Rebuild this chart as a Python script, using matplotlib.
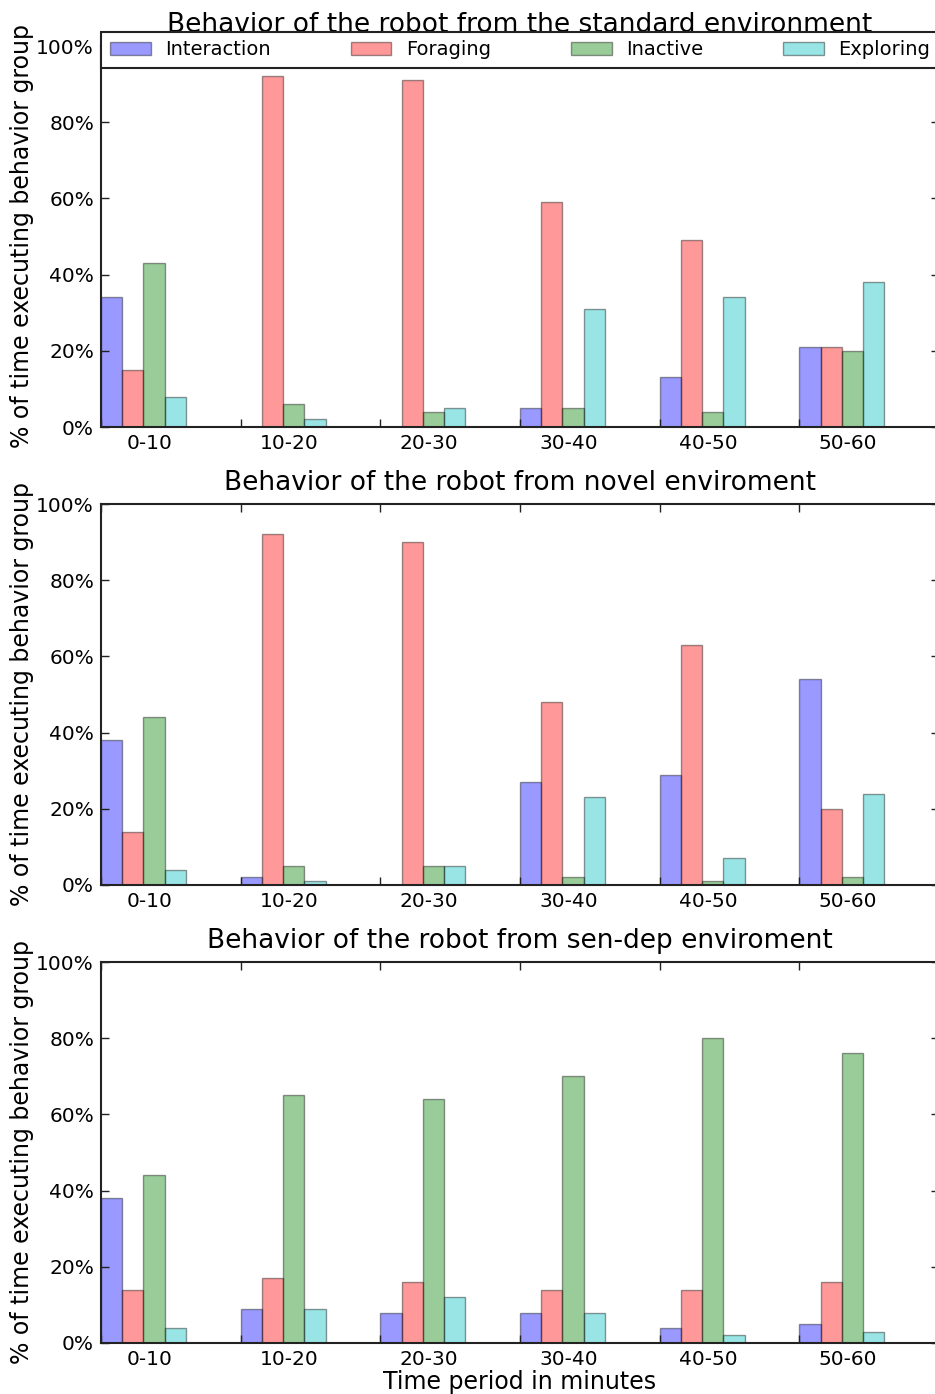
import matplotlib
matplotlib.use("Agg")
import matplotlib.pyplot as plt
import numpy as np

plt.rcParams['font.family'] = ['DejaVu Sans']

periods = ["0-10", "10-20", "20-30", "30-40", "40-50", "50-60"]
behaviors = ["Interaction", "Foraging", "Inactive", "Exploring"]
colors = ["b", "r", "g", "c"]

titles = [
    "Behavior of the robot from the standard environment",
    "Behavior of the robot from novel enviroment",
    "Behavior of the robot from sen-dep enviroment",
]

# percentage of time spent in each behavior group per period
standard_interaction = [34, 0, 0, 5, 13, 21]
standard_foraging = [15, 92, 91, 59, 49, 21]
standard_inactive = [43, 6, 4, 5, 4, 20]
standard_exploring = [8, 2, 5, 31, 34, 38]

novel_interaction = [38, 2, 0, 27, 29, 54]
novel_foraging = [14, 92, 90, 48, 63, 20]
novel_inactive = [44, 5, 5, 2, 1, 2]
novel_exploring = [4, 1, 5, 23, 7, 24]

sendep_interaction = [38, 9, 8, 8, 4, 5]
sendep_foraging = [14, 17, 16, 14, 14, 16]
sendep_inactive = [44, 65, 64, 70, 80, 76]
sendep_exploring = [4, 9, 12, 8, 2, 3]

environments = [
    [standard_interaction, standard_foraging, standard_inactive, standard_exploring],
    [novel_interaction, novel_foraging, novel_inactive, novel_exploring],
    [sendep_interaction, sendep_foraging, sendep_inactive, sendep_exploring],
]

W, H = 935, 1394
fig = plt.figure(figsize=(W / 100, H / 100), dpi=100)

ind = np.arange(len(periods))
width = 0.152

left = 101 / W
axw = (939 - 101) / W
axh = 381 / H
bottoms_px = [427, 885, 1343]

for k, (series, title) in enumerate(zip(environments, titles)):
    ax = fig.add_axes([left, 1 - bottoms_px[k] / H, axw, axh])
    for j, (vals, col, name) in enumerate(zip(series, colors, behaviors)):
        ax.bar(ind + j * width, vals, width, color=col, alpha=0.4,
               edgecolor="black", linewidth=1.0, align="edge", label=name)
    ax.set_xlim(0, len(periods))
    ax.set_ylim(0, 100)
    ax.set_yticks(np.arange(0, 101, 20))
    ax.set_yticklabels([f"{v}%" for v in range(0, 101, 20)])
    ax.set_xticks(ind)
    ax.set_xticklabels([])
    ax.set_xticks(ind + 0.35, minor=True)
    ax.set_xticklabels(periods, minor=True)
    ax.tick_params(which="major", direction="in", length=6, width=1,
                   top=True, right=True, labelsize=14.5, pad=5, colors="#222222",
                   labelcolor="black")
    ax.tick_params(which="minor", length=0, labelsize=14.5, pad=5)
    for s in ax.spines.values():
        s.set_linewidth(1.5)
        s.set_color("#222222")
    ax.set_title(title, fontsize=19, y=1 + 14 / 381, pad=0)
    ax.set_ylabel("% of time executing behavior group", fontsize=17, labelpad=2)
    if k == 0:
        leg = ax.legend(loc="lower left", bbox_to_anchor=(0, 0.942, 1, 0.087),
                        mode="expand", ncol=4, borderaxespad=0, fontsize=14,
                        fancybox=False, framealpha=1, edgecolor="#222222",
                        handlelength=2.1, handletextpad=0.75, borderpad=0.45)
        leg.get_frame().set_linewidth(1.5)
    if k == 2:
        ax.set_xlabel("Time period in minutes", fontsize=17, labelpad=1)

fig.savefig("out.png", dpi=100)
